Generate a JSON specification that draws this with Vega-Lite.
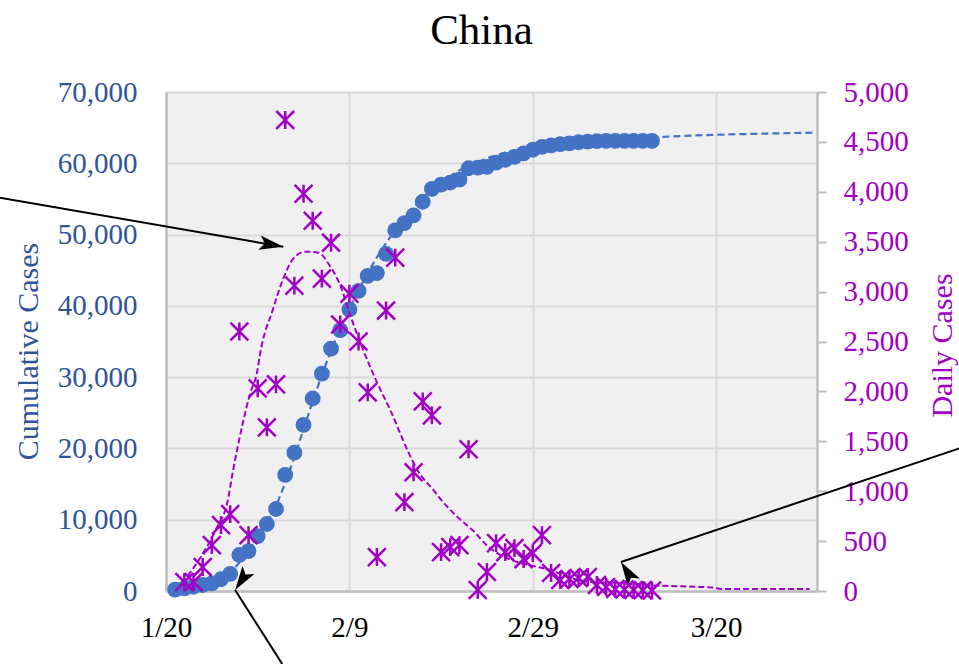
{
  "$schema": "https://vega.github.io/schema/vega-lite/v6.json",
  "width": 651,
  "height": 499,
  "autosize": "none",
  "padding": {"left": 166, "top": 92, "right": 142, "bottom": 73},
  "background": "white",
  "config": {
    "view": {"fill": "#f0f0f0", "stroke": null},
    "font": "Liberation Serif"
  },
  "title": {
    "text": "China",
    "font": "Liberation Serif",
    "fontSize": 43,
    "fontWeight": "normal",
    "color": "black",
    "anchor": "middle",
    "frame": "group",
    "baseline": "alphabetic",
    "offset": -9,
    "dx": -10
  },
  "datasets": {
    "cumulative": [
      {"day": 1, "cases": 200}, {"day": 2, "cases": 380}, {"day": 3, "cases": 600}, {"day": 4, "cases": 840},
      {"day": 5, "cases": 1080}, {"day": 6, "cases": 1650}, {"day": 7, "cases": 2400}, {"day": 8, "cases": 5050},
      {"day": 9, "cases": 5600}, {"day": 10, "cases": 7700}, {"day": 11, "cases": 9400}, {"day": 12, "cases": 11500},
      {"day": 13, "cases": 16300}, {"day": 14, "cases": 19400}, {"day": 15, "cases": 23300}, {"day": 16, "cases": 27000},
      {"day": 17, "cases": 30500}, {"day": 18, "cases": 34000}, {"day": 19, "cases": 36600}, {"day": 20, "cases": 39500},
      {"day": 21, "cases": 42100}, {"day": 22, "cases": 44200}, {"day": 23, "cases": 44600}, {"day": 24, "cases": 47300},
      {"day": 25, "cases": 50600}, {"day": 26, "cases": 51600}, {"day": 27, "cases": 52700}, {"day": 28, "cases": 54600},
      {"day": 29, "cases": 56400}, {"day": 30, "cases": 57000}, {"day": 31, "cases": 57300}, {"day": 32, "cases": 57700},
      {"day": 33, "cases": 59300}, {"day": 34, "cases": 59400}, {"day": 35, "cases": 59500}, {"day": 36, "cases": 60100},
      {"day": 37, "cases": 60500}, {"day": 38, "cases": 60900}, {"day": 39, "cases": 61400}, {"day": 40, "cases": 61900},
      {"day": 41, "cases": 62300}, {"day": 42, "cases": 62500}, {"day": 43, "cases": 62700}, {"day": 44, "cases": 62800},
      {"day": 45, "cases": 62950}, {"day": 46, "cases": 63050}, {"day": 47, "cases": 63100}, {"day": 48, "cases": 63150},
      {"day": 49, "cases": 63150}, {"day": 50, "cases": 63150}, {"day": 51, "cases": 63150}, {"day": 52, "cases": 63150},
      {"day": 53, "cases": 63150}
    ],
    "cumulativeFit": [
      {"day": 1, "cases": 200}, {"day": 2, "cases": 380}, {"day": 3, "cases": 600}, {"day": 4, "cases": 850},
      {"day": 5, "cases": 1150}, {"day": 6, "cases": 1700}, {"day": 7, "cases": 2600}, {"day": 8, "cases": 4000},
      {"day": 9, "cases": 5700}, {"day": 10, "cases": 7600}, {"day": 11, "cases": 9600}, {"day": 12, "cases": 12000},
      {"day": 13, "cases": 15200}, {"day": 14, "cases": 18800}, {"day": 15, "cases": 22700}, {"day": 16, "cases": 26600},
      {"day": 17, "cases": 30300}, {"day": 18, "cases": 33700}, {"day": 19, "cases": 36800}, {"day": 20, "cases": 39600},
      {"day": 21, "cases": 42200}, {"day": 22, "cases": 44600}, {"day": 23, "cases": 46800}, {"day": 24, "cases": 48800},
      {"day": 25, "cases": 50600}, {"day": 26, "cases": 52300}, {"day": 27, "cases": 53800}, {"day": 28, "cases": 55100},
      {"day": 29, "cases": 56300}, {"day": 30, "cases": 57300}, {"day": 31, "cases": 58200}, {"day": 32, "cases": 59000},
      {"day": 33, "cases": 59600}, {"day": 34, "cases": 60200}, {"day": 35, "cases": 60700}, {"day": 36, "cases": 61100},
      {"day": 37, "cases": 61500}, {"day": 38, "cases": 61800}, {"day": 40, "cases": 62300}, {"day": 43, "cases": 62800},
      {"day": 46, "cases": 63100}, {"day": 50, "cases": 63400}, {"day": 54, "cases": 63700}, {"day": 60, "cases": 64000},
      {"day": 65, "cases": 64150}, {"day": 70.5, "cases": 64300}
    ],
    "daily": [
      {"day": 2, "daily": 90}, {"day": 3, "daily": 90}, {"day": 4, "daily": 240}, {"day": 5, "daily": 460},
      {"day": 6, "daily": 660}, {"day": 7, "daily": 770}, {"day": 8, "daily": 2600}, {"day": 9, "daily": 560},
      {"day": 10, "daily": 2030}, {"day": 11, "daily": 1640}, {"day": 12, "daily": 2070}, {"day": 13, "daily": 4720},
      {"day": 14, "daily": 3060}, {"day": 15, "daily": 3980}, {"day": 16, "daily": 3710}, {"day": 17, "daily": 3130},
      {"day": 18, "daily": 3490}, {"day": 19, "daily": 2670}, {"day": 20, "daily": 2980}, {"day": 21, "daily": 2500},
      {"day": 22, "daily": 1990}, {"day": 23, "daily": 340}, {"day": 24, "daily": 2810}, {"day": 25, "daily": 3340},
      {"day": 26, "daily": 890}, {"day": 27, "daily": 1190}, {"day": 28, "daily": 1900}, {"day": 29, "daily": 1760},
      {"day": 30, "daily": 390}, {"day": 31, "daily": 440}, {"day": 32, "daily": 460}, {"day": 33, "daily": 1420},
      {"day": 34, "daily": 10}, {"day": 35, "daily": 190}, {"day": 36, "daily": 480}, {"day": 37, "daily": 390},
      {"day": 38, "daily": 430}, {"day": 39, "daily": 320}, {"day": 40, "daily": 380}, {"day": 41, "daily": 560},
      {"day": 42, "daily": 180}, {"day": 43, "daily": 110}, {"day": 44, "daily": 120}, {"day": 45, "daily": 130},
      {"day": 46, "daily": 140}, {"day": 47, "daily": 60}, {"day": 48, "daily": 40}, {"day": 49, "daily": 20},
      {"day": 50, "daily": 15}, {"day": 51, "daily": 10}, {"day": 52, "daily": 8}, {"day": 53, "daily": 5}
    ],
    "dailyTrend": [
      {"day": 1.75, "daily": 80}, {"day": 3.72, "daily": 330}, {"day": 5.57, "daily": 640}, {"day": 6.67, "daily": 880},
      {"day": 7.32, "daily": 1210}, {"day": 8.42, "daily": 1700}, {"day": 9.18, "daily": 1980}, {"day": 9.95, "daily": 2200},
      {"day": 10.27, "daily": 2380}, {"day": 11.69, "daily": 2830}, {"day": 12.79, "daily": 3130}, {"day": 13.88, "daily": 3330},
      {"day": 15.19, "daily": 3400}, {"day": 16.61, "daily": 3390}, {"day": 17.92, "daily": 3250}, {"day": 19.02, "daily": 3060},
      {"day": 20.11, "daily": 2760}, {"day": 21.53, "daily": 2410}, {"day": 23.06, "daily": 2080}, {"day": 24.48, "daily": 1810},
      {"day": 26.34, "daily": 1410}, {"day": 27.43, "daily": 1210}, {"day": 29.18, "daily": 1010}, {"day": 29.95, "daily": 920},
      {"day": 31.8, "daily": 740}, {"day": 33.55, "daily": 600}, {"day": 35.08, "daily": 450}, {"day": 36.5, "daily": 360},
      {"day": 38.69, "daily": 280}, {"day": 40.55, "daily": 240}, {"day": 41.97, "daily": 210}, {"day": 43.83, "daily": 140},
      {"day": 46.34, "daily": 90}, {"day": 49.29, "daily": 80}, {"day": 51.8, "daily": 60}, {"day": 55.08, "daily": 50},
      {"day": 58.4, "daily": 40}, {"day": 59.7, "daily": 35}, {"day": 60.5, "daily": 20}, {"day": 70.2, "daily": 20}
    ],
    "arrows": [
      {"id": "peak", "from_day": -18.14, "from_cases": 55170, "to_day": 12.79, "to_cases": 48290},
      {"id": "start", "from_day": 12.68, "from_cases": -10250, "to_day": 7.54, "to_cases": 140},
      {"id": "tail", "from_day": 86.67, "from_cases": 20070, "to_day": 49.62, "to_cases": 4070}
    ]
  },
  "layer": [
    {
      "layer": [
        {
          "data": {"name": "cumulativeFit"},
          "mark": {"type": "line", "color": "#4472C4", "strokeWidth": 2.2, "strokeDash": [7, 4], "interpolate": "monotone"},
          "encoding": {
            "x": {"field": "day", "type": "quantitative"},
            "y": {"field": "cases", "type": "quantitative"}
          }
        },
        {
          "data": {"name": "cumulative"},
          "mark": {"type": "circle", "size": 250, "color": "#4472C4", "opacity": 1},
          "encoding": {
            "x": {
              "field": "day",
              "type": "quantitative",
              "scale": {"domain": [0, 71], "nice": false, "zero": false},
              "axis": {
                "values": [0, 20, 40, 60],
                "labelExpr": "datum.value == 0 ? '1/20' : datum.value == 20 ? '2/9' : datum.value == 40 ? '2/29' : '3/20'",
                "title": null,
                "grid": true,
                "gridColor": "#d9d9d9",
                "gridWidth": 2,
                "ticks": false,
                "tickSize": 0,
                "domain": true,
                "domainColor": "#bfbfbf",
                "domainWidth": 2.5,
                "labelFont": "Liberation Serif",
                "labelFontSize": 29,
                "labelColor": "black",
                "labelPadding": 22,
                "labelFlush": false,
                "labelOverlap": false
              }
            },
            "y": {
              "field": "cases",
              "type": "quantitative",
              "scale": {"domain": [0, 70000], "nice": false, "zero": true},
              "axis": {
                "orient": "left",
                "values": [0, 10000, 20000, 30000, 40000, 50000, 60000, 70000],
                "format": ",d",
                "grid": true,
                "gridColor": "#d9d9d9",
                "gridWidth": 2,
                "ticks": false,
                "tickSize": 0,
                "domain": true,
                "domainColor": "#bfbfbf",
                "domainWidth": 2.5,
                "labelFont": "Liberation Serif",
                "labelFontSize": 29,
                "labelColor": "#2F5597",
                "labelPadding": 29,
                "labelFlush": false,
                "labelOverlap": false,
                "title": "Cumulative Cases",
                "titleFont": "Liberation Serif",
                "titleFontSize": 30,
                "titleFontWeight": "normal",
                "titleColor": "#2F5597",
                "titleAngle": 270,
                "titleBaseline": "alphabetic",
                "titleAlign": "center",
                "titleX": -129,
                "titleY": 259
              }
            }
          }
        },
        {
          "data": {"name": "arrows"},
          "mark": {"type": "rule", "color": "black", "strokeWidth": 2},
          "encoding": {
            "x": {"field": "from_day", "type": "quantitative"},
            "y": {"field": "from_cases", "type": "quantitative"},
            "x2": {"field": "to_day"},
            "y2": {"field": "to_cases"}
          }
        },
        {
          "data": {"name": "arrows"},
          "mark": {"type": "point", "shape": "M0,0L-1,-0.3L-0.78,0L-1,0.3Z", "filled": true, "color": "black", "size": 2304, "opacity": 1, "strokeWidth": 0},
          "encoding": {
            "x": {"field": "to_day", "type": "quantitative"},
            "y": {"field": "to_cases", "type": "quantitative"},
            "angle": {
              "field": "id",
              "type": "nominal",
              "scale": {"domain": ["peak", "start", "tail"], "range": [9.8, 237.6, 161.4]},
              "legend": null
            }
          }
        }
      ]
    },
    {
      "layer": [
        {
          "data": {"name": "dailyTrend"},
          "mark": {"type": "line", "color": "#A100C5", "strokeWidth": 2, "strokeDash": [6, 3], "interpolate": "monotone"},
          "encoding": {
            "x": {"field": "day", "type": "quantitative"},
            "y": {"field": "daily", "type": "quantitative"}
          }
        },
        {
          "data": {"name": "daily"},
          "mark": {"type": "point", "shape": "M-1,-1L1,1M-1,1L1,-1M0,-1L0,1", "filled": false, "stroke": "#A100C5", "strokeWidth": 2.5, "size": 320, "opacity": 1},
          "encoding": {
            "x": {"field": "day", "type": "quantitative"},
            "y": {
              "field": "daily",
              "type": "quantitative",
              "scale": {"domain": [0, 5000], "nice": false, "zero": true},
              "axis": {
                "orient": "right",
                "values": [0, 500, 1000, 1500, 2000, 2500, 3000, 3500, 4000, 4500, 5000],
                "format": ",d",
                "grid": false,
                "ticks": true,
                "tickSize": 9,
                "tickColor": "#bfbfbf",
                "tickWidth": 2,
                "domain": true,
                "domainColor": "#bfbfbf",
                "domainWidth": 2.5,
                "labelFont": "Liberation Serif",
                "labelFontSize": 29,
                "labelColor": "#A100C5",
                "labelPadding": 17,
                "labelFlush": false,
                "labelOverlap": false,
                "title": "Daily Cases",
                "titleFont": "Liberation Serif",
                "titleFontSize": 30,
                "titleFontWeight": "normal",
                "titleColor": "#A100C5",
                "titleAngle": 270,
                "titleBaseline": "alphabetic",
                "titleAlign": "center",
                "titleX": 134,
                "titleY": 253
              }
            }
          }
        }
      ]
    }
  ],
  "resolve": {"scale": {"y": "independent"}, "axis": {"y": "independent"}}
}
